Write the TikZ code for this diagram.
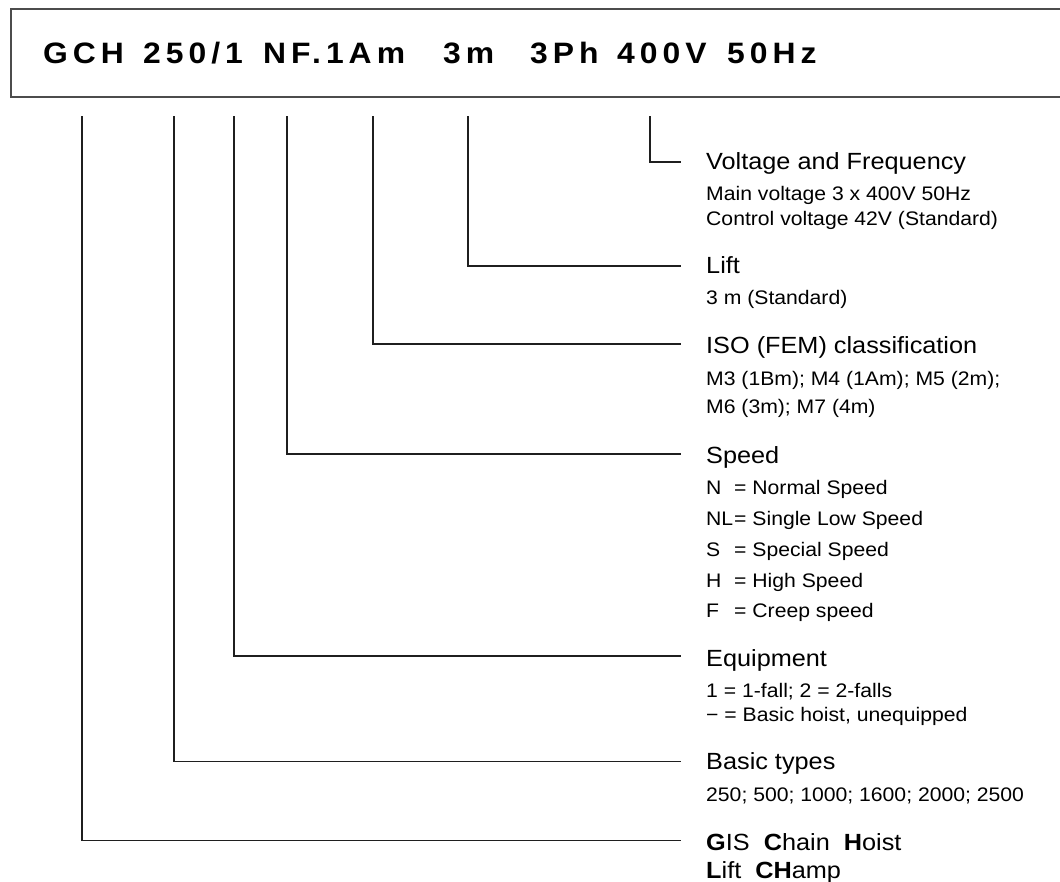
\documentclass[tikz,border=0pt]{standalone}
\usepackage{fontspec}
\setmainfont{Liberation Sans}[FakeStretch=1.08]
\newfontfamily\titlefont{Liberation Sans}[FakeStretch=1.08, LetterSpace=17]
\begin{document}
\begin{tikzpicture}[x=1pt,y=-1pt,
  head/.style={anchor=base west, inner sep=0pt, font=\fontsize{23.4}{28}\selectfont},
  sub/.style={anchor=base west, inner sep=0pt, font=\fontsize{19.6}{24}\selectfont},
  ttl/.style={anchor=base west, inner sep=0pt, font=\titlefont\bfseries\fontsize{29.5}{34}\selectfont},
  conn/.style={draw=black!88, line width=1.1pt},
  frame/.style={draw=black!70, line width=1.4pt}]
\useasboundingbox (0,0) rectangle (1060,881);
% title frame (open to the right)
\draw[frame] (1062,9) -- (11,9) -- (11,97) -- (1062,97);
% title groups
\node[ttl] (t1) at (43,63) {GCH};
\node[ttl] (t2) at (143,63) {250/1};
\node[ttl] (t3) at (263,63) {NF.1Am};
\node[ttl] (t4) at (443,63) {3m};
\node[ttl] (t5) at (530,63) {3Ph};
\node[ttl] (t6) at (617,63) {400V};
\node[ttl] (t7) at (727,63) {50Hz};
% connector tops and ends
\coordinate (aVF) at (650,116);  \coordinate (bVF) at (681,162);
\coordinate (aLi) at (468,116);  \coordinate (bLi) at (681,266);
\coordinate (aIS) at (373,116);  \coordinate (bIS) at (681,344);
\coordinate (aSp) at (287,116);  \coordinate (bSp) at (681,454);
\coordinate (aEq) at (234,116);  \coordinate (bEq) at (681,656);
\coordinate (aBa) at (174,116);  \coordinate (bBa) at (681,761.5);
\coordinate (aGi) at (82,116);   \coordinate (bGi) at (681,840.5);
\draw[conn] (aVF) |- (bVF);
\draw[conn] (aLi) |- (bLi);
\draw[conn] (aIS) |- (bIS);
\draw[conn] (aSp) |- (bSp);
\draw[conn] (aEq) |- (bEq);
\draw[conn] (aBa) |- (bBa);
\draw[conn] (aGi) |- (bGi);
% texts
\node[head] (hVF) at (706,169) {Voltage and Frequency};
\node[sub] (sVF1) at (706,200.5) {Main voltage 3 x 400V 50Hz};
\node[sub] (sVF2) at (706,225) {Control voltage 42V (Standard)};
\node[head] (hLi) at (706,273) {Lift};
\node[sub] (sLi1) at (706,304) {3 m (Standard)};
\node[head] (hIS) at (706,353) {ISO (FEM) classification};
\node[sub] (sIS1) at (706,385.5) {M3 (1Bm); M4 (1Am); M5 (2m);};
\node[sub] (sIS2) at (706,413.5) {M6 (3m); M7 (4m)};
\node[head] (hSp) at (706,463) {Speed};
\node[sub] (sSp1) at (706,494) {\makebox[28pt][l]{N}= Normal Speed};
\node[sub] (sSp2) at (706,525.5) {\makebox[28pt][l]{NL}= Single Low Speed};
\node[sub] (sSp3) at (706,556.5) {\makebox[28pt][l]{S}= Special Speed};
\node[sub] (sSp4) at (706,587.5) {\makebox[28pt][l]{H}= High Speed};
\node[sub] (sSp5) at (706,617.5) {\makebox[28pt][l]{F}= Creep speed};
\node[head] (hEq) at (706,666) {Equipment};
\node[sub] (sEq1) at (706,697) {1 = 1-fall; 2 = 2-falls};
\node[sub] (sEq2) at (706,721.5) {− = Basic hoist, unequipped};
\node[head] (hBa) at (706,769) {Basic types};
\node[sub] (sBa1) at (706,801.5) {250; 500; 1000; 1600; 2000; 2500};
\node[head] (hGi1) at (706,850) {\textbf{G}IS\ \ \textbf{C}hain\ \ \textbf{H}oist};
\node[head] (hGi2) at (706,878) {\textbf{L}ift\ \ \textbf{CH}amp};
\end{tikzpicture}
\end{document}
